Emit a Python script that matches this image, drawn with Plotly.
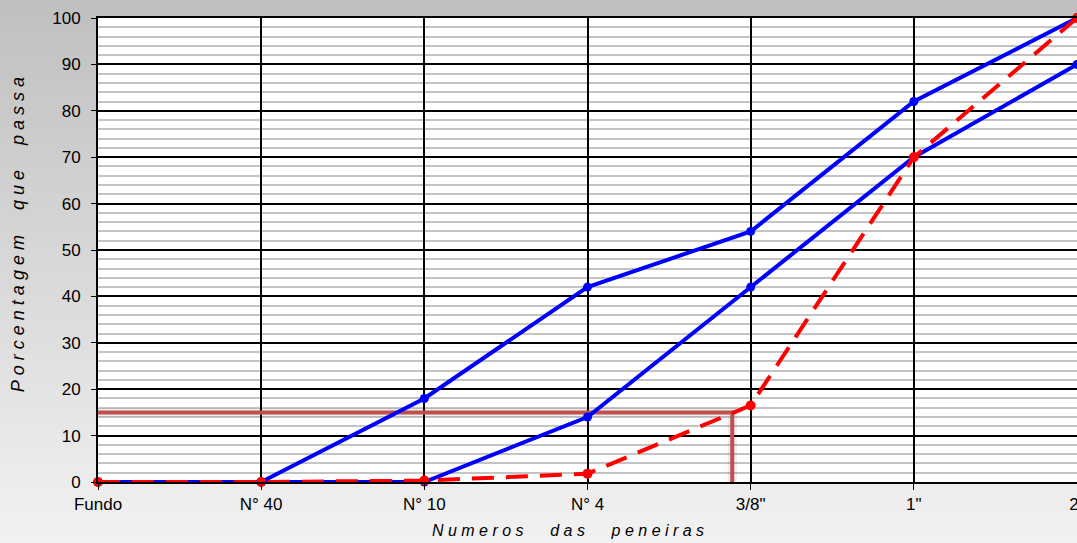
import plotly.graph_objects as go

# peneiras (sieve sizes) along the x axis
peneiras = ["Fundo", "N° 40", "N° 10", "N° 4", "3/8\"", "1\"", "2\""]
pos = list(range(len(peneiras)))

# faixa granulometrica (limits) and the sample curve, % que passa
limite_sup = [0, 0, 18, 42, 54, 82, 100]
limite_inf = [0, 0, 0, 14, 42, 70, 90]
amostra = [0, 0, 0.3, 1.8, 16.5, 70, 100]

# reading line drawn on top of the chart (15 % passing)
leitura_x = [0, 3.887, 3.887]
leitura_y = [15, 15, 0]

yticks = [0, 10, 20, 30, 40, 50, 60, 70, 80, 90, 100]

tick_font = dict(family="Liberation Sans, Arial", size=17, color="black")


def spaced(txt, gap):
    nb = "\u00a0"
    return (nb * gap).join(nb.join(w) for w in txt.split())


fig = go.Figure()

# reading line with a soft shadow
fig.add_trace(go.Scatter(x=leitura_x, y=leitura_y, mode="lines",
                         line=dict(color="rgba(0,0,0,0.07)", width=9),
                         hoverinfo="skip", showlegend=False))
fig.add_trace(go.Scatter(x=leitura_x, y=leitura_y, mode="lines",
                         line=dict(color="#c0504d", width=4),
                         showlegend=False))

fig.add_trace(go.Scatter(x=pos, y=limite_sup, mode="lines+markers",
                         line=dict(color="#0000ff", width=4),
                         marker=dict(color="#0000ff", size=9),
                         cliponaxis=False, showlegend=False))
fig.add_trace(go.Scatter(x=pos, y=limite_inf, mode="lines+markers",
                         line=dict(color="#0000ff", width=4),
                         marker=dict(color="#0000ff", size=9),
                         cliponaxis=False, showlegend=False))
fig.add_trace(go.Scatter(x=pos, y=amostra, mode="lines+markers",
                         line=dict(color="#ff0000", width=4, dash="22px,12px"),
                         marker=dict(color="#ff0000", size=10),
                         cliponaxis=False, showlegend=False))

# gray vertical gradient behind everything (paper coords)
top_px, bot_px = 18, 482
h_px = bot_px - top_px
n = 90
shapes = []
for i in range(n):
    y0px = 543 * i / n
    y1px = 543 * (i + 1) / n + 1
    c = int(192 + (242 - 192) * (i + 0.5) / n)
    shapes.append(dict(type="rect", xref="paper", yref="paper", layer="below",
                       x0=-0.2, x1=1.1,
                       y0=(bot_px - y1px) / h_px, y1=(bot_px - y0px) / h_px,
                       line=dict(width=0), fillcolor=f"rgb({c},{c},{c})"))
shapes.append(dict(type="rect", xref="paper", yref="paper", layer="below",
                   x0=0, x1=1, y0=0, y1=1, line=dict(width=0),
                   fillcolor="white"))

fig.update_layout(
    width=1077, height=543,
    margin=dict(l=98, r=0, t=18, b=61),
    paper_bgcolor="#d8d8d8",
    plot_bgcolor="white",
    shapes=shapes,
    xaxis=dict(
        range=[0, 6], tickvals=pos, ticktext=peneiras,
        showgrid=True, gridcolor="black", gridwidth=2,
        showline=True, linecolor="black", linewidth=2, mirror=True,
        ticks="outside", ticklen=6, tickcolor="black", tickwidth=1,
        ticklabeloverflow="allow", automargin=False,
        zeroline=False, tickfont=tick_font,
    ),
    yaxis=dict(
        range=[0, 100], tickvals=yticks,
        showgrid=True, gridcolor="black", gridwidth=2,
        minor=dict(dtick=2, showgrid=True, gridcolor="#c4c4c4", gridwidth=2),
        showline=True, linecolor="black", linewidth=2,
        ticks="outside", ticklen=5, tickcolor="black", tickwidth=1,
        ticklabelstandoff=7, automargin=False,
        zeroline=False, tickfont=tick_font,
    ),
    annotations=[
        dict(text=spaced("Porcentagem que passa", 5), textangle=-90,
             xref="paper", yref="paper", x=-0.0817, y=0.532,
             xanchor="center", yanchor="middle", showarrow=False,
             font=dict(family="Liberation Sans, Arial", size=18,
                       color="black", style="italic")),
        dict(text=spaced("Numeros das peneiras", 6),
             xref="paper", yref="paper", x=0.4796, y=-0.1056,
             xanchor="center", yanchor="middle", showarrow=False,
             font=dict(family="Liberation Sans, Arial", size=16,
                       color="black", style="italic")),
    ],
)

fig.write_html("out.html", config={"displayModeBar": False},
               post_script="document.body.style.margin='0px';")
